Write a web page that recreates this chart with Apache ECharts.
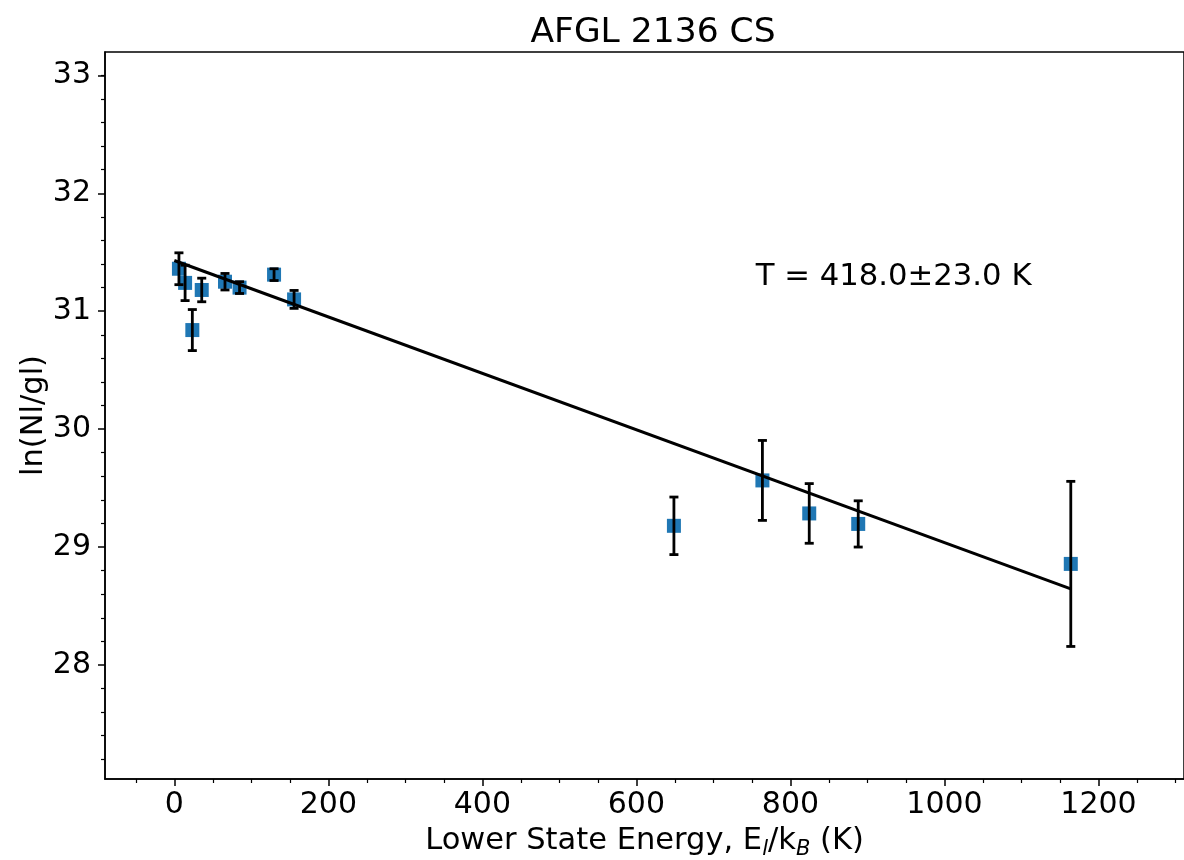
<!DOCTYPE html>
<html><head><meta charset="utf-8">
<script src="https://cdn.jsdelivr.net/npm/echarts@6/dist/echarts.min.js"></script>
<style>html,body{margin:0;padding:0;background:#fff}#c{width:1184px;height:860px}</style>
</head><body><div id="c"></div>
<script>
// Data
const energyK = [6, 14, 23.4, 35.6, 65.8, 84.7, 129.5, 155.5, 648.7, 763.6, 824.4, 888, 1164];
const lnNg    = [31.36, 31.24, 30.84, 31.18, 31.25, 31.20, 31.31, 31.10, 29.18, 29.565, 29.285, 29.196, 28.857];
const lnNgErr = [0.135, 0.15, 0.174, 0.10, 0.07, 0.05, 0.05, 0.076, 0.244, 0.339, 0.253, 0.196, 0.70];
const fitX = [0, 1164];
const fitY = [31.43, 28.645];
const annotX = 755, annotY = 31.2;
const annotText = 'T = 418.0\u00b123.0 K';
const xMajorTicks = [0, 200, 400, 600, 800, 1000, 1200];
const xMinorTicks = [-50, 50, 100, 150, 250, 300, 350, 450, 500, 550, 650, 700, 750, 850, 900, 950, 1050, 1100, 1150, 1250, 1300];
const yMajorTicks = [28, 29, 30, 31, 32, 33];
const yMinorTicks = [27.2, 27.4, 27.6, 27.8, 28.2, 28.4, 28.6, 28.8, 29.2, 29.4, 29.6, 29.8, 30.2, 30.4, 30.6, 30.8, 31.2, 31.4, 31.6, 31.8, 32.2, 32.4, 32.6, 32.8, 33.0];

const FONT = 'DejaVu Sans';
const FS = 30;
const chart = echarts.init(document.getElementById('c'), null, {renderer: 'canvas'});
const xMin = -90, xMax = 1311, yMin = 27.033, yMax = 33.198;
const black = '#000';
const plain = v => String(v);

const majorAxisCommon = {
  type: 'value',
  axisLine: {show: true, onZero: false, lineStyle: {color: black, width: 1.5}},
  splitLine: {show: false}
};

chart.setOption({
  animation: false,
  backgroundColor: '#fff',
  title: {
    text: 'AFGL 2136 CS', left: 648, top: 11, textAlign: 'center',
    textStyle: {fontFamily: FONT, fontSize: 34.5, fontWeight: 'normal', color: black}
  },
  grid: {left: 105, top: 52, right: 0, bottom: 81, show: true, borderColor: black, borderWidth: 1.5,
         backgroundColor: 'transparent', containLabel: false, outerBoundsMode: 'none'},
  xAxis: [
    Object.assign({}, majorAxisCommon, {
      min: xMin, max: xMax, position: 'bottom',
      axisTick: {show: true, customValues: xMajorTicks, length: 7, lineStyle: {color: black, width: 1.5}},
      axisLabel: {customValues: xMajorTicks, formatter: plain, fontSize: FS, color: black, fontFamily: FONT, margin: 11},
      name: '{a|Lower State Energy, E}{s|l}{a|/k}{s|B}{a| (K)}',
      nameLocation: 'middle', nameGap: 43,
      nameTextStyle: {
        fontFamily: FONT, fontSize: FS, color: black,
        rich: {
          a: {fontFamily: FONT, fontSize: 30.5, color: black, lineHeight: 38},
          s: {fontFamily: FONT, fontSize: 21, color: black, fontStyle: 'italic', lineHeight: 22, verticalAlign: 'bottom'}
        }
      }
    }),
    {
      type: 'value', min: xMin, max: xMax, position: 'bottom',
      axisLine: {show: false, onZero: false},
      axisTick: {show: true, customValues: xMinorTicks, length: 4, lineStyle: {color: black, width: 1.2}},
      axisLabel: {show: false}, splitLine: {show: false}
    }
  ],
  yAxis: [
    Object.assign({}, majorAxisCommon, {
      min: yMin, max: yMax, position: 'left',
      axisTick: {show: true, customValues: yMajorTicks, length: 7, lineStyle: {color: black, width: 1.5}},
      axisLabel: {customValues: yMajorTicks, formatter: plain, fontSize: FS, color: black, fontFamily: FONT, margin: 14},
      name: 'ln(Nl/gl)', nameLocation: 'middle', nameGap: 55, nameMoveOverlap: false,
      nameTextStyle: {fontFamily: FONT, fontSize: 30.5, color: black}
    }),
    {
      type: 'value', min: yMin, max: yMax, position: 'left',
      axisLine: {show: false, onZero: false},
      axisTick: {show: true, customValues: yMinorTicks, length: 4, lineStyle: {color: black, width: 1.2}},
      axisLabel: {show: false}, splitLine: {show: false}
    }
  ],
  series: [
    {
      type: 'scatter', xAxisIndex: 0, yAxisIndex: 0, z: 2,
      symbol: 'rect', symbolSize: 14,
      itemStyle: {color: '#1f77b4', opacity: 1},
      data: energyK.map((x, i) => [x, lnNg[i]])
    },
    {
      type: 'line', xAxisIndex: 0, yAxisIndex: 0, z: 3,
      showSymbol: false, symbol: 'none',
      lineStyle: {color: black, width: 3},
      data: fitX.map((x, i) => [x, fitY[i]])
    },
    {
      type: 'custom', xAxisIndex: 0, yAxisIndex: 0, z: 4,
      data: energyK.map((x, i) => [x, lnNg[i], lnNgErr[i]]),
      renderItem: function (params, api) {
        const x = api.value(0), y = api.value(1), e = api.value(2);
        const top = api.coord([x, y + e]);
        const bot = api.coord([x, y - e]);
        const cw = 4.5;
        const st = {stroke: black, lineWidth: 2.8};
        return {
          type: 'group',
          children: [
            {type: 'line', shape: {x1: top[0], y1: top[1], x2: bot[0], y2: bot[1]}, style: st},
            {type: 'line', shape: {x1: top[0] - cw, y1: top[1], x2: top[0] + cw, y2: top[1]}, style: st},
            {type: 'line', shape: {x1: bot[0] - cw, y1: bot[1], x2: bot[0] + cw, y2: bot[1]}, style: st}
          ]
        };
      }
    },
    {
      type: 'custom', xAxisIndex: 0, yAxisIndex: 0, z: 5,
      data: [[annotX, annotY]],
      renderItem: function (params, api) {
        const p = api.coord([api.value(0), api.value(1)]);
        return {
          type: 'text', x: p[0], y: p[1] - 10.5,
          style: {text: annotText, fontFamily: FONT, fontSize: 30.7, fill: black, align: 'left', verticalAlign: 'middle'}
        };
      }
    }
  ]
});
</script>
</body></html>
